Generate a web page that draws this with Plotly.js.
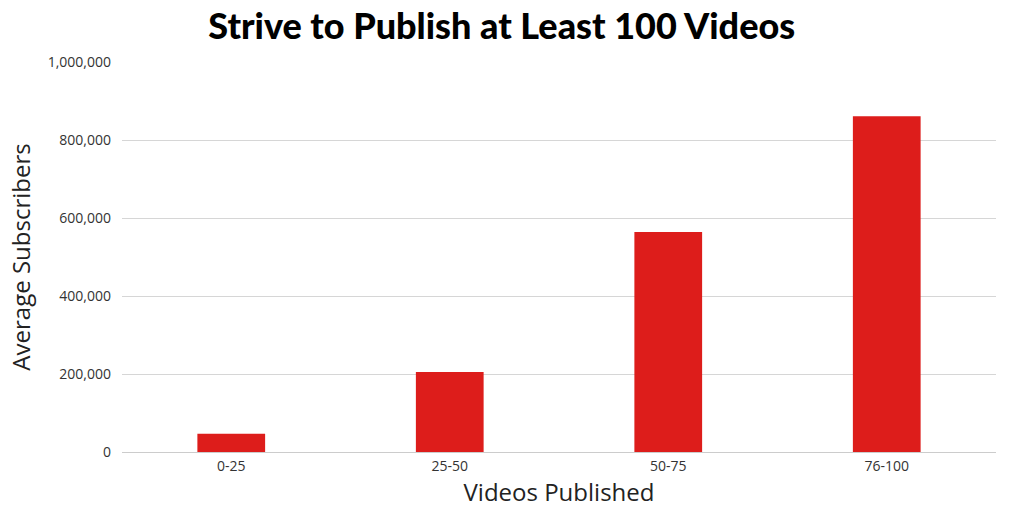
<!DOCTYPE html>
<html>
<head>
<meta charset="utf-8">
<script src="https://cdn.plot.ly/plotly-3.0.1.min.js"></script>
<style>html,body{margin:0;padding:0;background:#fff;}#chart{width:1024px;height:517px;}</style>
</head>
<body>
<div id="chart"></div>
<script>
const categories = ["0-25", "25-50", "50-75", "76-100"];
const avgSubscribers = [47000, 205000, 564000, 861000];
const yTickValues = [0, 200000, 400000, 600000, 800000, 1000000];
const yTickLabels = ["0", "200,000", "400,000", "600,000", "800,000", "1,000,000"];

const trace = {
  type: "bar",
  x: categories,
  y: avgSubscribers,
  marker: {color: "#dd1d1b"},
  hoverinfo: "x+y"
};

const layout = {
  width: 1024,
  height: 517,
  margin: {l: 122, r: 28, t: 62, b: 65},
  paper_bgcolor: "#ffffff",
  plot_bgcolor: "#ffffff",
  bargap: 0.69,
  showlegend: false,
  font: {family: "'Open Sans', sans-serif", color: "#333333"},
  title: {
    text: "Strive to Publish at Least 100 Videos",
    font: {family: "Lato, sans-serif", size: 36, color: "#000000", weight: 900},
    x: 0.49, xanchor: "center",
    y: 0.948, yanchor: "middle"
  },
  xaxis: {
    type: "category",
    tickfont: {size: 14, color: "#333333"},
    showgrid: false,
    showline: false,
    zeroline: false,
    ticks: "",
    ticklabelstandoff: 4,
    title: {text: "Videos Published", font: {size: 24, color: "#222222"}, standoff: 6}
  },
  yaxis: {
    range: [0, 1000000],
    tickvals: yTickValues,
    ticktext: yTickLabels,
    tickfont: {size: 14, color: "#333333"},
    showgrid: true,
    gridcolor: "#d6d6d6",
    gridwidth: 1,
    zeroline: true,
    zerolinecolor: "#cccccc",
    ticks: "",
    ticklen: 0,
    ticklabelstandoff: 10,
    title: {text: "Average Subscribers", font: {size: 24, color: "#222222"}, standoff: 10}
  }
};

Plotly.newPlot("chart", [trace], layout, {displayModeBar: false, staticPlot: true});
</script>
</body>
</html>
